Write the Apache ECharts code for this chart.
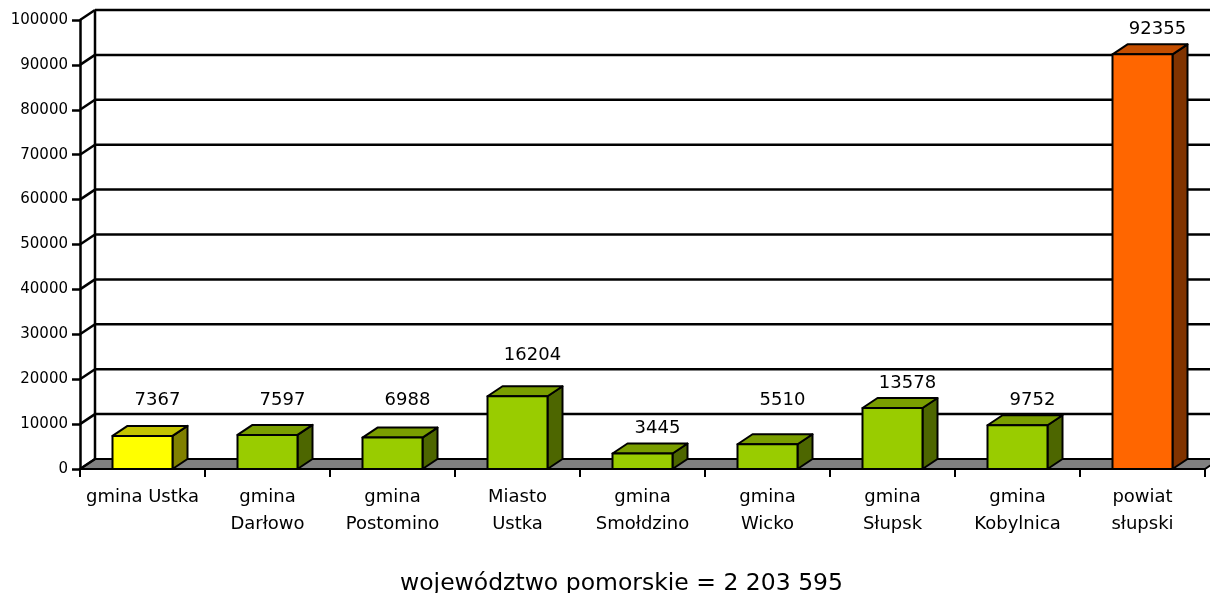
<!DOCTYPE html>
<html>
<head>
<meta charset="utf-8">
<script src="https://cdn.jsdelivr.net/npm/echarts@6/dist/echarts.min.js"></script>
<style>
html,body{margin:0;padding:0;background:#fff;}
#chart{width:1210px;height:593px;}
</style>
</head>
<body>
<div id="chart"></div>
<script>
const categories = ['gmina Ustka','gmina\nDarłowo','gmina\nPostomino','Miasto\nUstka','gmina\nSmołdzino','gmina\nWicko','gmina\nSłupsk','gmina\nKobylnica','powiat\nsłupski'];
const values = [7367,7597,6988,16204,3445,5510,13578,9752,92355];
const yTicks = [0,10000,20000,30000,40000,50000,60000,70000,80000,90000,100000];
const titleText = 'województwo pomorskie = 2 203 595';

const FONT = 'DejaVu Sans';
const DX = 15, DY = -10;
const colors = {
  first: {front:'#ffff00', top:'#c4c400', side:'#808000'},
  mid:   {front:'#99cc00', top:'#7a9e00', side:'#4d6600'},
  last:  {front:'#ff6600', top:'#c44e00', side:'#803300'}
};

const chart = echarts.init(document.getElementById('chart'), null, {renderer:'canvas'});

function renderWalls(params, api){
  const cs = params.coordSys;
  const x0 = cs.x, x1 = cs.x + cs.width;
  const children = [];
  const yTop = api.coord([0, yTicks[yTicks.length-1]])[1];
  const yBot = api.coord([0, yTicks[0]])[1];
  children.push({type:'polygon', shape:{points:[[x0,yBot],[x0+DX,yBot+DY],[x1+DX,yBot+DY],[x1,yBot]]},
    style:{fill:'#808080', stroke:'#000', lineWidth:2}});
  yTicks.forEach(function(t){
    const y = api.coord([0, t])[1];
    if (t !== yTicks[0]) {
      children.push({type:'line', shape:{x1:x0+DX, y1:y+DY, x2:x1+DX+40, y2:y+DY}, style:{stroke:'#000', lineWidth:2.5}});
    }
    children.push({type:'line', shape:{x1:x0, y1:y, x2:x0+DX, y2:y+DY}, style:{stroke:'#000', lineWidth:2.5}});
  });
  children.push({type:'line', shape:{x1:x0+DX, y1:yTop+DY, x2:x0+DX, y2:yBot+DY}, style:{stroke:'#000', lineWidth:2.5}});
  return {type:'group', children:children};
}

function renderBar(params, api){
  const i = api.value(0), v = api.value(1);
  const base = api.coord([i, 0]);
  const top = api.coord([i, v]);
  const bw = api.size([1, 0])[0] * 0.48;
  const xa = base[0] - bw/2, xb = base[0] + bw/2;
  const yb = base[1], yt = top[1];
  const n = categories.length;
  const c = i === 0 ? colors.first : (i === n-1 ? colors.last : colors.mid);
  const st = function(f){ return {fill:f, stroke:'#000', lineWidth:2, lineJoin:'round'}; };
  const gridYs = yTicks.map(function(t){ return api.coord([0,t])[1] + DY; });
  let ly = yt + DY - 15;
  gridYs.forEach(function(g){ if (Math.abs(ly - g) < 9) ly = g - 14; });
  return {type:'group', children:[
    {type:'polygon', shape:{points:[[xb,yb],[xb,yt],[xb+DX,yt+DY],[xb+DX,yb+DY]]}, style:st(c.side)},
    {type:'polygon', shape:{points:[[xa,yt],[xb,yt],[xb+DX,yt+DY],[xa+DX,yt+DY]]}, style:st(c.top)},
    {type:'rect', shape:{x:xa, y:yt, width:bw, height:yb-yt}, style:st(c.front)},
    {type:'text', x: base[0] + 15, y: ly, style:{text:String(v), fill:'#000', font:'18px "' + FONT + '"', align:'center', verticalAlign:'middle'}}
  ]};
}

chart.setOption({
  animation:false,
  backgroundColor:'#fff',
  title:{text:titleText, left:395, top:565, textStyle:{fontFamily:FONT, fontSize:23.5, fontWeight:'normal', color:'#000', lineHeight:28}},
  grid:{left:80, right:5, top:20, bottom:124, containLabel:false},
  xAxis:{type:'category', data:categories,
    axisLine:{show:true, lineStyle:{color:'#000', width:2}},
    axisTick:{show:true, length:8, lineStyle:{color:'#000', width:2}},
    axisLabel:{fontFamily:FONT, fontSize:18, color:'#000', margin:15, lineHeight:27, interval:0},
    splitLine:{show:false}},
  yAxis:{type:'value', min:0, max:100000, interval:10000,
    axisLine:{show:true, lineStyle:{color:'#000', width:2.5}},
    axisTick:{show:true, length:8, lineStyle:{color:'#000', width:2.5}},
    axisLabel:{fontFamily:FONT, fontSize:15, color:'#000', margin:12, formatter:function(v){return String(v);}},
    splitLine:{show:false}},
  series:[
    {type:'custom', renderItem:renderWalls, data:[[0,0]], z:1, silent:true, clip:false},
    {type:'custom', renderItem:renderBar, data:values.map(function(v,i){return [i,v];}), z:3, clip:false,
     encode:{x:0, y:1}}
  ]
});
</script>
</body>
</html>
